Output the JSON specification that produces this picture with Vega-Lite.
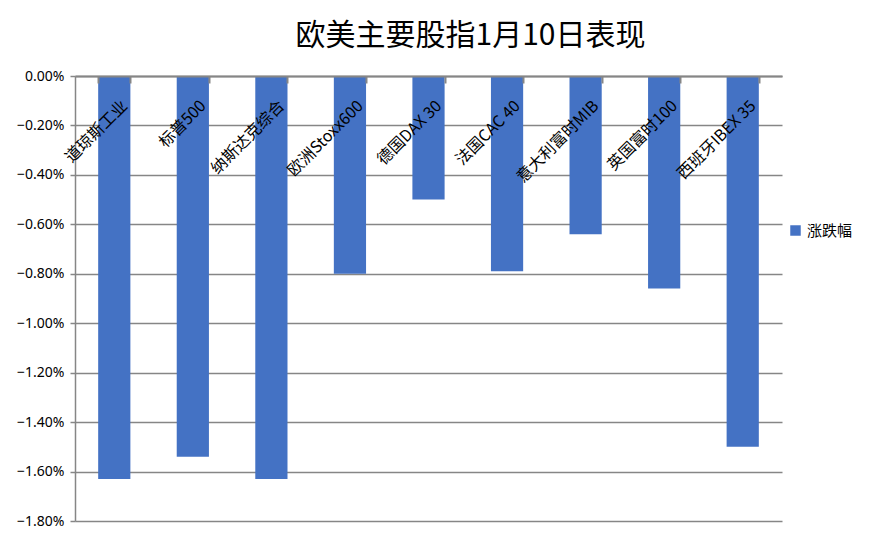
{
  "$schema": "https://vega.github.io/schema/vega-lite/v6.json",
  "width": 707,
  "height": 445,
  "autosize": "none",
  "padding": {"left": 75, "top": 76, "right": 113, "bottom": 24},
  "background": "white",
  "title": {
    "text": "欧美主要股指1月10日表现",
    "font": "Noto Sans CJK SC",
    "fontSize": 30,
    "fontWeight": "normal",
    "color": "#000000",
    "anchor": "middle",
    "dx": 42,
    "offset": 18
  },
  "data": {
    "values": [
      {"name": "道琼斯工业", "value": -0.0163, "series": "涨跌幅"},
      {"name": "标普500", "value": -0.0154, "series": "涨跌幅"},
      {"name": "纳斯达克综合", "value": -0.0163, "series": "涨跌幅"},
      {"name": "欧洲Stoxx600", "value": -0.0080, "series": "涨跌幅"},
      {"name": "德国DAX 30", "value": -0.0050, "series": "涨跌幅"},
      {"name": "法国CAC 40", "value": -0.0079, "series": "涨跌幅"},
      {"name": "意大利富时MIB", "value": -0.0064, "series": "涨跌幅"},
      {"name": "英国富时100", "value": -0.0086, "series": "涨跌幅"},
      {"name": "西班牙IBEX 35", "value": -0.0150, "series": "涨跌幅"}
    ]
  },
  "mark": {"type": "bar"},
  "encoding": {
    "x": {
      "field": "name",
      "type": "nominal",
      "sort": null,
      "scale": {"paddingInner": 0.59, "paddingOuter": 0.295},
      "axis": {
        "orient": "bottom",
        "offset": -445,
        "zindex": 2,
        "title": null,
        "labelAngle": -45,
        "labelAlign": "right",
        "labelBaseline": "middle",
        "labelFont": "Noto Sans CJK SC",
        "labelFontSize": 16,
        "labelColor": "#000000",
        "labelPadding": 20,
        "labelOffset": 10,
        "labelLimit": 300,
        "tickBand": "extent",
        "ticks": true,
        "tickSize": 7,
        "tickColor": "#868686",
        "tickWidth": 2,
        "domainColor": "#868686",
        "domainWidth": 2,
        "labelOverlap": false
      }
    },
    "y": {
      "field": "value",
      "type": "quantitative",
      "scale": {"domain": [-0.018, 0], "nice": false},
      "axis": {
        "title": null,
        "format": ".2%",
        "values": [-0.018, -0.016, -0.014, -0.012, -0.010, -0.008, -0.006, -0.004, -0.002, 0],
        "labelFont": "Noto Sans",
        "labelFontSize": 14,
        "labelColor": "#000000",
        "labelPadding": 6,
        "tickColor": "#868686",
        "tickSize": 5,
        "tickWidth": 1.5,
        "domainColor": "#868686",
        "domainWidth": 1.5,
        "gridColor": "#868686",
        "gridWidth": 1.5,
        "gridOpacity": 1
      }
    },
    "fill": {
      "field": "series",
      "type": "nominal",
      "scale": {"range": ["#4472C4"]},
      "legend": {
        "title": null,
        "orient": "none",
        "legendX": 713,
        "legendY": 147,
        "symbolType": "square",
        "symbolSize": 110,
        "symbolStrokeWidth": 0,
        "labelFont": "Noto Sans CJK SC",
        "labelFontSize": 15,
        "labelColor": "#000000"
      }
    }
  },
  "config": {"view": {"stroke": null}}
}
